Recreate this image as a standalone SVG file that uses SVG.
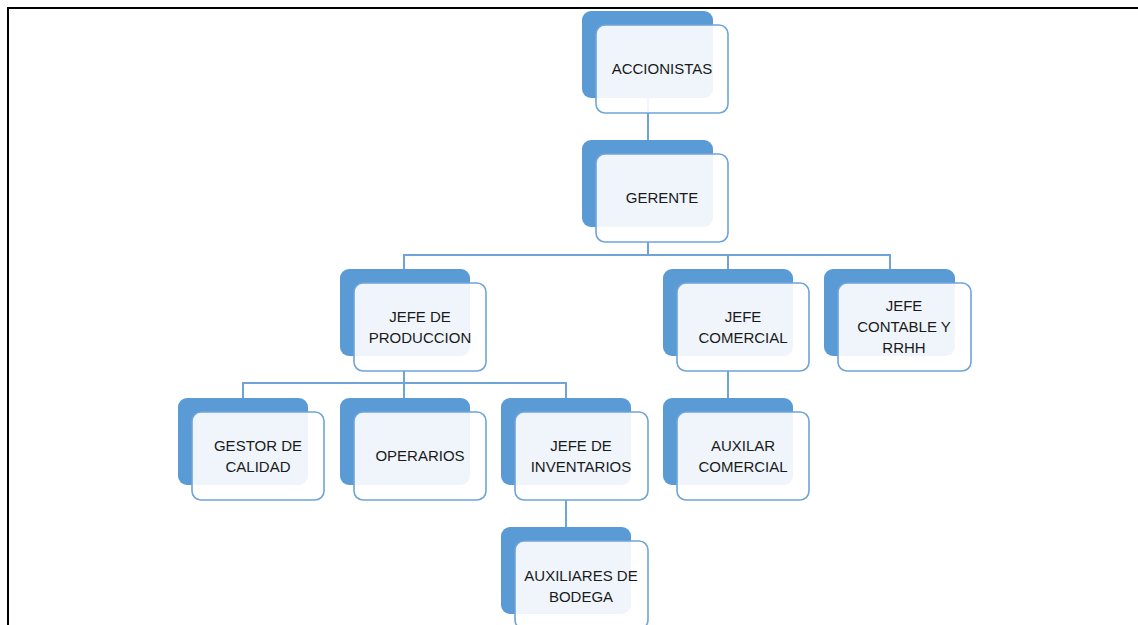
<svg xmlns="http://www.w3.org/2000/svg" width="1138" height="625" viewBox="0 0 1138 625">
<style>
.bk{fill:#5b9bd5}
.fr{fill:#ffffff;fill-opacity:0.9;stroke:#6fa4da;stroke-width:1.6}
.t{font-family:"Liberation Sans",Arial,sans-serif;font-size:15px;fill:#1a1a1a;text-anchor:middle}
.c{fill:none;stroke:#6fa4da;stroke-width:2}
</style>
<rect x="0" y="0" width="1138" height="625" fill="#fff"/>
<path d="M8 630 V8 H1145" fill="none" stroke="#000" stroke-width="2"/>
<g id="connectors" class="c">
<path d="M648 98 V140"/>
<path d="M648 242 V255 M404 269 V255 H890 V269 M728 255 V269"/>
<path d="M404 371 V383 M243 398 V383 H566 V398 M404 383 V398"/>
<path d="M728 371 V398"/>
<path d="M566 500 V527"/>
</g>
<g id="accionistas"><rect class="bk" x="582" y="11" width="131" height="87" rx="9"/><rect class="fr" x="596" y="25" width="132" height="88" rx="9"/><text class="t" x="662" y="74">ACCIONISTAS</text></g>
<g id="gerente"><rect class="bk" x="582" y="140" width="131" height="87" rx="9"/><rect class="fr" x="596" y="154" width="132" height="88" rx="9"/><text class="t" x="662" y="203">GERENTE</text></g>
<g id="jefe-produccion"><rect class="bk" x="340" y="269" width="130" height="87" rx="9"/><rect class="fr" x="354" y="283" width="132" height="88" rx="9"/><text class="t" x="420" y="322">JEFE DE</text><text class="t" x="420" y="343">PRODUCCION</text></g>
<g id="jefe-comercial"><rect class="bk" x="663" y="269" width="130" height="87" rx="9"/><rect class="fr" x="677" y="283" width="132" height="88" rx="9"/><text class="t" x="743" y="322">JEFE</text><text class="t" x="743" y="343">COMERCIAL</text></g>
<g id="jefe-contable"><rect class="bk" x="824" y="269" width="131" height="87" rx="9"/><rect class="fr" x="838" y="283" width="133" height="88" rx="9"/><text class="t" x="904" y="311">JEFE</text><text class="t" x="904" y="332">CONTABLE Y</text><text class="t" x="904" y="353">RRHH</text></g>
<g id="gestor-calidad"><rect class="bk" x="178" y="398" width="130" height="87" rx="9"/><rect class="fr" x="192" y="412" width="132" height="88" rx="9"/><text class="t" x="258" y="451">GESTOR DE</text><text class="t" x="258" y="472">CALIDAD</text></g>
<g id="operarios"><rect class="bk" x="340" y="398" width="130" height="87" rx="9"/><rect class="fr" x="354" y="412" width="132" height="88" rx="9"/><text class="t" x="420" y="461">OPERARIOS</text></g>
<g id="jefe-inventarios"><rect class="bk" x="501" y="398" width="130" height="87" rx="9"/><rect class="fr" x="515" y="412" width="133" height="88" rx="9"/><text class="t" x="581" y="451">JEFE DE</text><text class="t" x="581" y="472">INVENTARIOS</text></g>
<g id="auxilar-comercial"><rect class="bk" x="663" y="398" width="130" height="87" rx="9"/><rect class="fr" x="677" y="412" width="132" height="88" rx="9"/><text class="t" x="743" y="451">AUXILAR</text><text class="t" x="743" y="472">COMERCIAL</text></g>
<g id="auxiliares-bodega"><rect class="bk" x="501" y="527" width="130" height="87" rx="9"/><rect class="fr" x="515" y="541" width="133" height="88" rx="9"/><text class="t" x="581" y="581">AUXILIARES DE</text><text class="t" x="581" y="602">BODEGA</text></g>
</svg>
